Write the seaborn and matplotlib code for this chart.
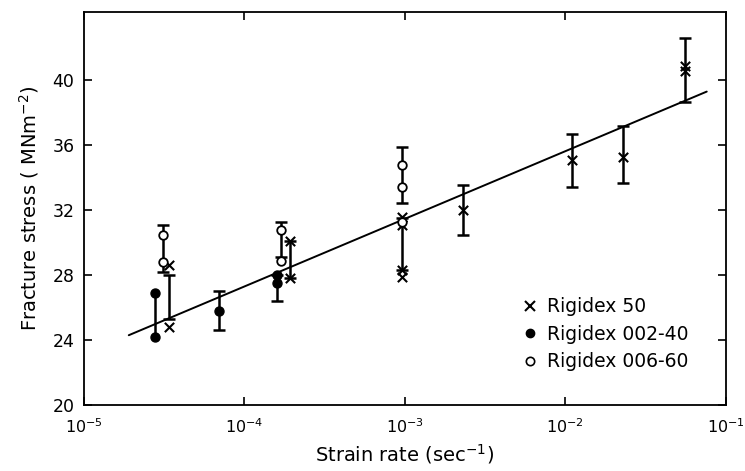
import matplotlib
matplotlib.use("Agg")
import matplotlib.pyplot as plt
from matplotlib.lines import Line2D
from matplotlib.ticker import LogLocator, LogFormatterMathtext, NullLocator
import numpy as np
import pandas as pd
import seaborn as sns

# Measured fracture stress (MN m^-2) against strain rate (s^-1)
r50_rate = [3.4e-5, 3.4e-5, 1.93e-4, 1.93e-4, 9.6e-4, 9.6e-4, 9.6e-4, 9.6e-4,
            2.3e-3, 1.1e-2, 2.3e-2, 5.6e-2, 5.6e-2]
r50_stress = [28.6, 24.8, 30.1, 27.85, 31.55, 31.1, 28.3, 27.9,
              32.0, 35.1, 35.3, 40.9, 40.55]

r0240_rate = [2.75e-5, 2.75e-5, 6.9e-5, 1.6e-4, 1.6e-4]
r0240_stress = [26.9, 24.2, 25.8, 28.0, 27.5]

r0660_rate = [3.1e-5, 3.1e-5, 1.7e-4, 1.7e-4, 9.6e-4, 9.6e-4, 9.6e-4]
r0660_stress = [30.5, 28.8, 30.8, 28.9, 34.8, 33.4, 31.3]

# Scatter bands (low / high) for each group of tests
bar_rate = [2.75e-5, 3.1e-5, 3.4e-5, 6.9e-5, 1.6e-4, 1.7e-4, 1.93e-4,
            9.6e-4, 9.6e-4, 2.3e-3, 1.1e-2, 2.3e-2, 5.6e-2]
bar_low = [24.2, 28.2, 25.3, 24.6, 26.4, 29.1, 27.85,
           28.3, 32.45, 30.5, 33.4, 33.7, 38.65]
bar_high = [26.9, 31.1, 28.0, 27.0, 28.0, 31.3, 30.1,
            31.5, 35.9, 33.55, 36.7, 37.2, 42.6]
bar_capped = [False, True, True, True, True, True, True,
              True, True, True, True, True, True]

# Least-squares line through all results
fit_rate = [1.9e-5, 7.6e-2]
fit_stress = [24.3, 39.3]

labels = ["Rigidex 50", "Rigidex 002-40", "Rigidex 006-60"]
y_ticks = [20, 24, 28, 32, 36, 40]

sns.set_style("ticks")
plt.rcParams["font.family"] = ["DejaVu Sans"]
plt.rcParams["xtick.direction"] = "in"
plt.rcParams["ytick.direction"] = "in"
plt.rcParams["text.color"] = "black"
plt.rcParams["axes.labelcolor"] = "black"

fig = plt.figure(figsize=(7.45, 4.71), dpi=100)
ax = fig.add_axes([0.1128, 0.140, 0.8615, 0.8345])

pts = pd.concat([
    pd.DataFrame({"rate": r50_rate, "stress": r50_stress, "grade": labels[0]}),
    pd.DataFrame({"rate": r0240_rate, "stress": r0240_stress, "grade": labels[1]}),
    pd.DataFrame({"rate": r0660_rate, "stress": r0660_stress, "grade": labels[2]}),
], ignore_index=True)
fit = pd.DataFrame({"rate": fit_rate, "stress": fit_stress})

# fitted line
sns.lineplot(data=fit, x="rate", y="stress", color="black", lw=1.4, ax=ax,
             legend=False)

# scatter bands
bars = pd.DataFrame({"rate": bar_rate, "lo": bar_low, "hi": bar_high,
                     "cap": bar_capped})
bars["mid"] = (bars["lo"] + bars["hi"]) / 2
bars["err"] = (bars["hi"] - bars["lo"]) / 2
for capped, grp in bars.groupby("cap"):
    ax.errorbar(grp["rate"], grp["mid"], yerr=grp["err"], fmt="none",
                ecolor="black", elinewidth=1.8,
                capsize=4.5 if capped else 0, capthick=1.8, zorder=3)

# data points
sub = pts[pts["grade"] == labels[0]]
sns.scatterplot(data=sub, x="rate", y="stress", marker="x", s=45,
                color="black", linewidth=1.5, ax=ax, zorder=4, legend=False)
sub = pts[pts["grade"] == labels[1]]
sns.scatterplot(data=sub, x="rate", y="stress", marker="o", s=42,
                color="black", edgecolor="black", linewidth=1, ax=ax,
                zorder=4, legend=False)
sub = pts[pts["grade"] == labels[2]]
sns.scatterplot(data=sub, x="rate", y="stress", marker="o", s=38,
                facecolor="white", edgecolor="black", linewidth=1.3, ax=ax,
                zorder=5, legend=False)

ax.set_xscale("log")
ax.set_xlim(1e-5, 1e-1)
ax.set_ylim(20, 44.2)
ax.xaxis.set_major_locator(LogLocator(base=10, numticks=10))
ax.xaxis.set_major_formatter(LogFormatterMathtext())
ax.xaxis.set_minor_locator(NullLocator())
ax.set_yticks(y_ticks)

for sp in ax.spines.values():
    sp.set_visible(True)
    sp.set_linewidth(1.3)
    sp.set_color("black")
ax.tick_params(which="major", direction="in", length=6, width=1.2,
               top=True, right=True, labelsize=12.5, colors="black", pad=7)
ax.tick_params(axis="x", pad=9, labelsize=11.5)

ax.set_xlabel("Strain rate (sec$^{-1}$)", fontsize=14, labelpad=4)
ax.set_ylabel("Fracture stress ( MNm$^{-2}$)", fontsize=14, labelpad=8)

handles = [
    Line2D([], [], ls="none", marker="x", ms=7.5, mew=1.5, color="black"),
    Line2D([], [], ls="none", marker="o", ms=6, color="black"),
    Line2D([], [], ls="none", marker="o", ms=6, mfc="white", mec="black",
           mew=1.2),
]
leg = ax.legend(handles, labels, loc="upper left", bbox_to_anchor=(0.665, 0.298),
                frameon=False, fontsize=13.5, handletextpad=0.45,
                labelspacing=0.45, handlelength=1.0, borderpad=0)
for t in leg.get_texts():
    t.set_color("black")

fig.savefig("out.png", dpi=100, facecolor="white")
